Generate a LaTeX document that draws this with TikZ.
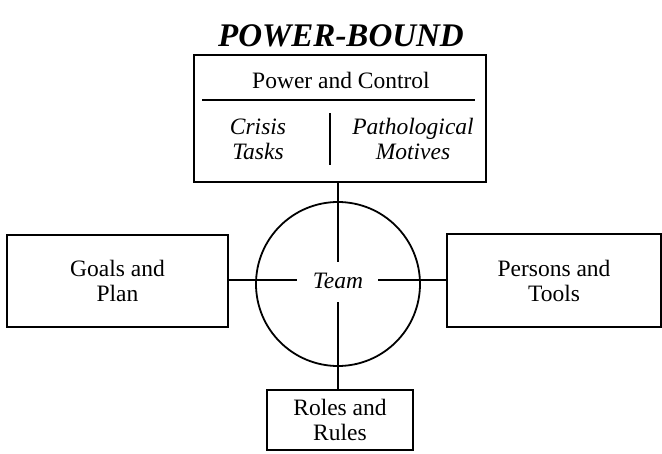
\documentclass[tikz,border=0pt]{standalone}
\usepackage{fontspec}
\setmainfont{Liberation Serif}
\begin{document}
\begin{tikzpicture}[x=1pt,y=-1pt,
  box/.style={draw,line width=1.8pt,align=center,inner sep=0pt,
    font=\fontsize{23.5}{25}\selectfont},
  txt/.style={align=center,inner sep=0pt,font=\fontsize{23.5}{25}\selectfont},
  conn/.style={line width=1.8pt}]
\useasboundingbox (0,0) rectangle (662,453);
% title
\node[inner sep=0pt,font=\fontsize{33}{36}\selectfont\bfseries\itshape] (title) at (341,36) {POWER-BOUND};
% top box
\node[box,minimum width=292pt,minimum height=127pt] (top) at (340,118.5) {};
\node[txt] (pc) at (341,80) {Power and Control};
\coordinate (hl) at (202,100);
\coordinate (hr) at (475,100);
\draw[conn] (hl) -- (hr);
\coordinate (vt) at (330,113);
\coordinate (vb) at (330,165);
\draw[conn] (vt) -- (vb);
\node[txt,font=\fontsize{23.5}{25}\selectfont\itshape] (crisis) at (258,139) {Crisis\\Tasks};
\node[txt,font=\fontsize{23.5}{25}\selectfont\itshape] (patho) at (413,139) {Pathological\\Motives};
% circle
\node[draw,circle,line width=1.8pt,minimum size=164pt,inner sep=0pt] (circ) at (338,284) {};
\node[txt,font=\fontsize{23.5}{25}\selectfont\itshape] (team) at (338,281) {Team};
% side boxes
\node[box,minimum width=221pt,minimum height=92pt] (goals) at (117.5,281) {Goals and\\Plan};
\node[box,minimum width=214pt,minimum height=93pt] (persons) at (554,280.5) {Persons and\\Tools};
\node[box,minimum width=146pt,minimum height=60pt] (roles) at (340,420) {Roles and\\Rules};
% gap ends around Team
\coordinate (gN) at (338,262);
\coordinate (gS) at (338,302);
\coordinate (gW) at (297,280);
\coordinate (gE) at (378,280);
\draw[conn] (gN |- top.south) -- (gN);
\draw[conn] (gS) -- (gS |- roles.north);
\draw[conn] (goals.east |- gW) -- (gW);
\draw[conn] (gE) -- (persons.west |- gE);
\end{tikzpicture}
\end{document}
